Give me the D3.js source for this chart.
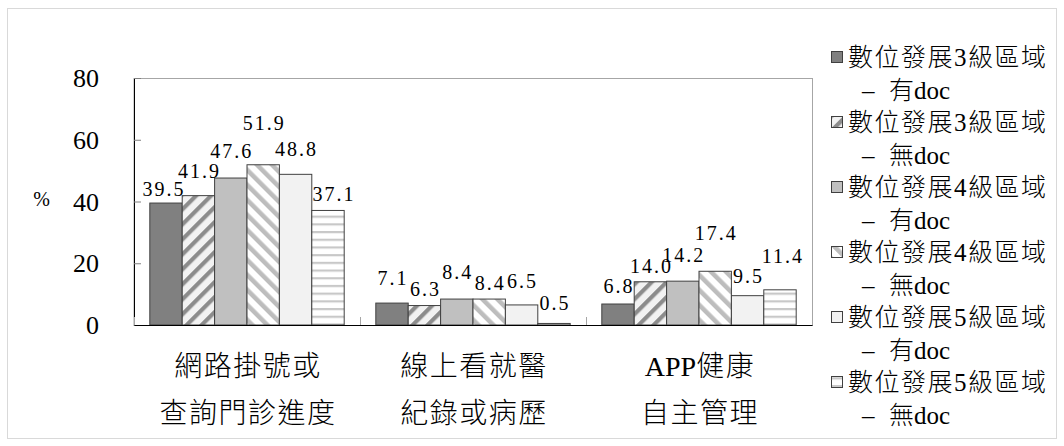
<!DOCTYPE html>
<html><head><meta charset="utf-8">
<script src="https://cdn.jsdelivr.net/npm/d3@7"></script>
<style>
html,body{margin:0;padding:0;background:#fff;}
svg{display:block;}
</style></head>
<body>
<svg id="chart" width="1064" height="446"></svg>
<script>
// ---- data ----
const categories = ["網路掛號或\n查詢門診進度", "線上看就醫\n紀錄或病歷", "APP健康\n自主管理"];
const seriesLine1 = ["數位發展3級區域", "數位發展3級區域", "數位發展4級區域", "數位發展4級區域", "數位發展5級區域", "數位發展5級區域"];
const seriesLine2 = ["有doc", "無doc", "有doc", "無doc", "有doc", "無doc"];
const level3WithDoc = [39.5, 7.1, 6.8];
const level3NoDoc   = [41.9, 6.3, 14.0];
const level4WithDoc = [47.6, 8.4, 14.2];
const level4NoDoc   = [51.9, 8.4, 17.4];
const level5WithDoc = [48.8, 6.5, 9.5];
const level5NoDoc   = [37.1, 0.5, 11.4];
const yTicks = [0, 20, 40, 60, 80];
const yLabel = "%";

// ---- layout (label nudges, px) ----
const labelGap = [[7,18,20,35,18,9],[18,10,20,9,17,13],[11,9,19,31,13,27]];
const labelDx  = [[-3,0,0,0,0,5],[0,0,0,0,0,0],[0,0,0,0,0,2]];

const seriesValues = [level3WithDoc, level3NoDoc, level4WithDoc, level4NoDoc, level5WithDoc, level5NoDoc];
const seriesIdx = d3.range(seriesValues.length);

const svg = d3.select("#chart");
const SERIF = "'Liberation Serif',serif";
const CJK = "'Noto Sans CJK TC','Noto Sans CJK SC',sans-serif";

function mixed(sel, str, cjkSpacing, latinSpacing) {
  const runs = str.match(/[\x00-\x7F]+|[^\x00-\x7F]+/g) || [];
  runs.forEach(r => {
    const ascii = /^[\x00-\x7F]+$/.test(r);
    sel.append("tspan")
      .attr("font-family", ascii ? SERIF : CJK)
      .attr("font-weight", ascii ? 400 : 300)
      .attr("letter-spacing", ascii ? latinSpacing : cjkSpacing)
      .text(r);
  });
}

svg.append("rect").attr("x", 7.5).attr("y", 8.5).attr("width", 1049).attr("height", 430)
  .attr("fill", "#fff").attr("stroke", "#d9d9d9").attr("stroke-width", 1);

const defs = svg.append("defs");
function diag(id, angle, bg, fg, period, w) {
  const p = defs.append("pattern").attr("id", id).attr("patternUnits", "userSpaceOnUse")
    .attr("width", period).attr("height", period).attr("patternTransform", `rotate(${angle})`);
  p.append("rect").attr("width", period).attr("height", period).attr("fill", bg);
  p.append("rect").attr("x", 0).attr("width", w).attr("height", period).attr("fill", fg);
}
diag("p2", 45, "#f2f2f2", "#8c8c8c", 10.6, 4.2);
diag("p4", -45, "#ffffff", "#bdbdbd", 10.6, 4.5);
(function(){
  const p = defs.append("pattern").attr("id", "p6").attr("patternUnits", "userSpaceOnUse")
    .attr("width", 8).attr("height", 7.7);
  p.append("rect").attr("width", 8).attr("height", 7.7).attr("fill", "#ffffff");
  p.append("rect").attr("y", 0).attr("width", 8).attr("height", 2.2).attr("fill", "#c8c8c8");
})();
const fills = ["#808080", "url(#p2)", "#c0c0c0", "url(#p4)", "#f2f2f2", "url(#p6)"];

const plot = {left: 134, right: 812, top: 78, bottom: 325};
const x0 = d3.scaleBand().domain(categories).range([plot.left, plot.right]).padding(0);
const x1 = d3.scaleBand().domain(seriesIdx).range([0, x0.bandwidth()]).paddingInner(0).paddingOuter(0.488);
const y = d3.scaleLinear().domain([0, 80]).range([plot.bottom, plot.top]);

svg.append("rect").attr("x", plot.left).attr("y", plot.top + 0.5)
  .attr("width", plot.right - plot.left + 0.5).attr("height", plot.bottom - plot.top)
  .attr("fill", "none").attr("stroke", "#a6a6a6").attr("stroke-width", 1);

const groups = svg.append("g").selectAll("g").data(categories).join("g")
  .attr("transform", d => `translate(${x0(d)},0)`);
groups.selectAll("rect").data((c, ci) => seriesIdx.map(s => ({s, ci, v: seriesValues[s][ci]})))
  .join("rect")
  .attr("x", d => x1(d.s))
  .attr("y", d => y(d.v))
  .attr("width", x1.bandwidth())
  .attr("height", d => y(0) - y(d.v))
  .attr("fill", d => fills[d.s])
  .attr("stroke", "#404040").attr("stroke-width", 1);

groups.selectAll("text.lbl").data((c, ci) => seriesIdx.map(s => ({s, ci, v: seriesValues[s][ci]})))
  .join("text").attr("class", "lbl")
  .attr("x", d => x1(d.s) + x1.bandwidth() / 2 + labelDx[d.ci][d.s] + 1)
  .attr("y", d => y(d.v) - labelGap[d.ci][d.s])
  .attr("text-anchor", "middle")
  .attr("font-family", SERIF).attr("font-size", 20).attr("letter-spacing", 2)
  .attr("fill", "#000")
  .text(d => d.v.toFixed(1));

const yAxis = d3.axisLeft(y).tickValues(yTicks).tickSize(-7).tickPadding(35).tickSizeOuter(0);
const gy = svg.append("g").attr("transform", `translate(${plot.left},0)`).call(yAxis);
gy.select(".domain").attr("stroke", "#000");
gy.selectAll(".tick line").attr("stroke", "#808080");
gy.selectAll(".tick text").attr("font-family", SERIF).attr("font-size", 26).attr("fill", "#000").attr("dy", "0.33em");

svg.append("text").attr("x", 41.5).attr("y", 199).attr("dy", "0.35em").attr("text-anchor", "middle")
  .attr("font-family", SERIF).attr("font-size", 20).text(yLabel);

const xAxis = d3.axisBottom(x0).tickSize(0).tickFormat("");
const gx = svg.append("g").attr("transform", `translate(0,${plot.bottom})`).call(xAxis);
gx.select(".domain").attr("stroke", "#000");
const bounds = categories.map(c => x0(c)).concat([plot.right]);
svg.append("g").selectAll("line").data(bounds).join("line")
  .attr("x1", d => d + 0.5).attr("x2", d => d + 0.5)
  .attr("y1", plot.bottom).attr("y2", plot.bottom - 8)
  .attr("stroke", "#a6a6a6");

categories.forEach(c => {
  c.split("\n").forEach((line, i) => {
    const t = svg.append("text")
      .attr("x", x0(c) + x0.bandwidth() / 2 + 1)
      .attr("y", 376 + i * 47)
      .attr("text-anchor", "middle")
      .attr("font-size", 28).attr("fill", "#000");
    mixed(t, line, 1.5, 0);
  });
});

const lg = svg.append("g");
const itemStep = 65, lineStep = 32.5, lgTop = 57;
seriesIdx.forEach(s => {
  const cy = lgTop + s * itemStep;
  lg.append("rect").attr("x", 831.5).attr("y", cy - 5.5).attr("width", 11).attr("height", 11)
    .attr("fill", fills[s]).attr("stroke", "#404040").attr("stroke-width", 1);
  const t1 = lg.append("text").attr("x", 848).attr("y", cy + 9)
    .attr("font-size", 25).attr("fill", "#000");
  mixed(t1, seriesLine1[s], 1.5, 1.5);
  const t2 = lg.append("text").attr("y", cy + lineStep + 9)
    .attr("font-size", 25).attr("fill", "#000");
  t2.append("tspan").attr("x", 862).attr("font-family", SERIF).text("–");
  const t3 = lg.append("text").attr("x", 889).attr("y", cy + lineStep + 9)
    .attr("font-size", 25).attr("fill", "#000");
  mixed(t3, seriesLine2[s], 0, 0);
});
</script>
</body></html>
